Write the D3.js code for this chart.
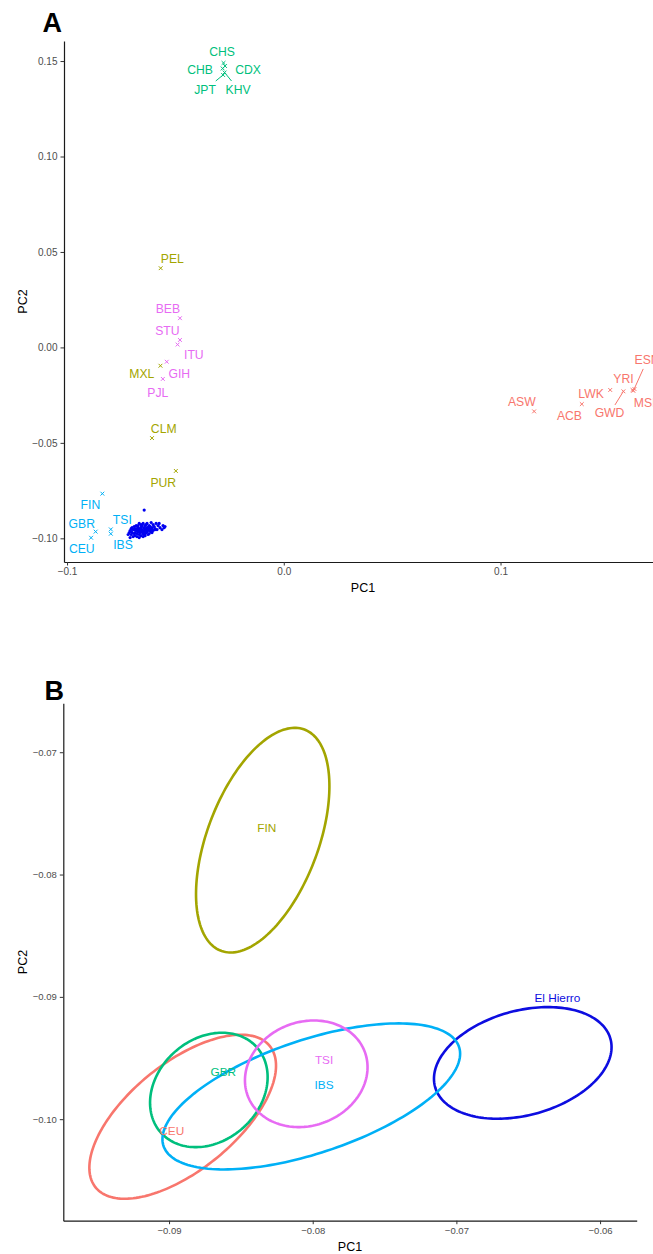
<!DOCTYPE html>
<html>
<head>
<meta charset="utf-8">
<script src="https://cdn.jsdelivr.net/npm/d3@7"></script>
<style>
  html, body { margin: 0; padding: 0; background: #fff; }
  svg { display: block; font-family: "Liberation Sans", Arial, Helvetica, sans-serif; }
</style>
</head>
<body>
<svg id="chart" width="653" height="1254"></svg>
<script>
// ---------------- Panel A data ----------------
const popNames  = ["CHS","CDX","CHB","KHV","JPT","PEL","MXL","CLM","PUR","BEB","STU","ITU","GIH","PJL","FIN","GBR","CEU","TSI","IBS","ASW","ACB","LWK","GWD","YRI","ESN","MSL"];
const popGroups = ["EAS","EAS","EAS","EAS","EAS","AMR","AMR","AMR","AMR","SAS","SAS","SAS","SAS","SAS","EUR","EUR","EUR","EUR","EUR","AFR","AFR","AFR","AFR","AFR","AFR","AFR"];
const popPC1    = [-0.0278,-0.0271,-0.0282,-0.0273,-0.0280,-0.0568,-0.0569,-0.0608,-0.0498,-0.0479,-0.0479,-0.0490,-0.0540,-0.0558,-0.0837,-0.0868,-0.0889,-0.0798,-0.0798,0.1155,0.1375,0.1506,0.1567,0.1609,0.1613,0.1618];
const popPC2    = [0.1490,0.1474,0.1461,0.1440,0.1427,0.0415,-0.0096,-0.0475,-0.0647,0.0153,0.0039,0.0015,-0.0075,-0.0165,-0.0766,-0.0965,-0.0997,-0.0953,-0.0976,-0.0335,-0.0297,-0.0223,-0.0230,-0.0223,-0.0227,-0.0218];
const labelPC1  = [-0.0285,-0.0165,-0.0386,-0.0211,-0.0363,-0.0514,-0.0655,-0.0554,-0.0556,-0.0535,-0.0537,-0.0415,-0.0482,-0.0581,-0.0892,-0.0932,-0.0932,-0.0745,-0.0742,0.1098,0.1318,0.1418,0.1503,0.1567,0.1676,0.1673];
const labelPC2  = [0.1548,0.1453,0.1453,0.1353,0.1353,0.0465,-0.0136,-0.0423,-0.0708,0.0205,0.0088,-0.0038,-0.0136,-0.0239,-0.0822,-0.0921,-0.1055,-0.0904,-0.1035,-0.0283,-0.0358,-0.0241,-0.0344,-0.0162,-0.0066,-0.0288];
const withSegment = ["KHV","JPT","GWD","ESN"];

const groupNames  = ["AFR","AMR","EAS","EUR","SAS"];
const groupColors = ["#F8766D","#A3A500","#00BF7D","#00B0F6","#E76BF3"];

// El Hierro individuals (PC1, PC2)
const hierroPC1 = [
 -0.0667,-0.0649,-0.0631,-0.0612,
 -0.0681,-0.0658,-0.0635,
 -0.0690,-0.0672,-0.0654,-0.0640,-0.0621,-0.0603,-0.0589,
 -0.0704,-0.0686,-0.0672,-0.0658,-0.0644,-0.0631,-0.0617,-0.0598,-0.0580,
 -0.0695,-0.0663,-0.0635,-0.0608,
 -0.0709,-0.0681,-0.0667,-0.0654,-0.0640,-0.0626,-0.0612,-0.0594,-0.0571,-0.0552,
 -0.0704,-0.0677,-0.0649,-0.0621,-0.0594,
 -0.0713,-0.0700,-0.0686,-0.0672,-0.0658,-0.0644,-0.0631,-0.0617,-0.0603,-0.0585,
 -0.0690,-0.0663,-0.0635,-0.0612,
 -0.0704,-0.0677,-0.0649,-0.0640,-0.0621,-0.0608,
 -0.0686,-0.0667,-0.0644,-0.0626,
 -0.0695,-0.0677,-0.0658,-0.0640,
 -0.0667,-0.0649,
 -0.0644,-0.0557,-0.0548,-0.0718,-0.0709,-0.0562,-0.0575,-0.0700,
 -0.0656,-0.0624,-0.0633,-0.0665,-0.0608,-0.0690,-0.0651,-0.0621,-0.0677
];
const hierroPC2 = [
 -0.0922,-0.0922,-0.0922,-0.0917,
 -0.0933,-0.0928,-0.0928,
 -0.0938,-0.0933,-0.0933,-0.0933,-0.0933,-0.0928,-0.0922,
 -0.0949,-0.0949,-0.0944,-0.0944,-0.0944,-0.0944,-0.0938,-0.0938,-0.0933,
 -0.0954,-0.0949,-0.0949,-0.0944,
 -0.0959,-0.0959,-0.0954,-0.0954,-0.0954,-0.0954,-0.0949,-0.0949,-0.0944,-0.0944,
 -0.0965,-0.0959,-0.0959,-0.0959,-0.0954,
 -0.0970,-0.0970,-0.0970,-0.0965,-0.0965,-0.0965,-0.0965,-0.0959,-0.0959,-0.0954,
 -0.0975,-0.0970,-0.0970,-0.0965,
 -0.0980,-0.0975,-0.0975,-0.0975,-0.0975,-0.0970,
 -0.0986,-0.0980,-0.0980,-0.0980,
 -0.0991,-0.0991,-0.0986,-0.0986,
 -0.0996,-0.0991,
 -0.0852,-0.0933,-0.0938,-0.0980,-0.0996,-0.0954,-0.0922,-0.0944,
 -0.0938,-0.0941,-0.0959,-0.0962,-0.0952,-0.0954,-0.0970,-0.0946,-0.0949
];

const ticksA_x = [-0.1, 0.0, 0.1];
const ticksA_y = [-0.10, -0.05, 0.00, 0.05, 0.10, 0.15];

// ---------------- Panel B data ----------------
const ellNames  = ["CEU","El Hierro","FIN","GBR","IBS","TSI"];
const ellColors = ["#F8766D","#0D0DE0","#A3A500","#00BF7D","#00B0F6","#E76BF3"];
const ellCX  = [-0.08905,-0.06538,-0.08348,-0.08723,-0.08010,-0.08045];
const ellCY  = [-0.09980,-0.09540,-0.07719,-0.09761,-0.09814,-0.09629];
const ellWX  = [0.006496,0.006180,0.004642,0.004092,0.010360,0.004266];
const ellWY  = [0.006705,0.004563,0.009182,0.004677,0.005969,0.004358];
const ellDYR = [0.004170,0.001292,0.004415,0.001047,0.003491,0.000540];
const ellLabelX = [-0.08981,-0.06297,-0.08320,-0.08622,-0.07921,-0.07921];
const ellLabelY = [-0.10092,-0.09007,-0.07617,-0.09616,-0.09719,-0.09514];

const ticksB_x = [-0.09, -0.08, -0.07, -0.06];
const ticksB_y = [-0.10, -0.09, -0.08, -0.07];

// ---------------- Drawing ----------------
const svg = d3.select("#chart");
svg.append("rect").attr("width", 653).attr("height", 1254).attr("fill", "#fff");
const font = "'Liberation Sans', Arial, Helvetica, sans-serif";
const colorOf = d3.scaleOrdinal().domain(groupNames).range(groupColors);

function styleAxis(g, fs) {
  g.select(".domain").attr("stroke", "#1a1a1a").attr("stroke-width", 1.2);
  g.selectAll(".tick line").attr("stroke", "#333").attr("stroke-width", 1);
  g.selectAll(".tick text").attr("fill", "#4d4d4d").attr("font-size", fs).attr("font-family", font);
}

// ----- Panel A -----
const xA = d3.scaleLinear().domain([-0.1014, 0.1745]).range([64, 662]);
const yA = d3.scaleLinear().domain([-0.1124, 0.1605]).range([562, 41]);

const gA = svg.append("g");
gA.append("g").attr("transform", "translate(0,562)")
  .call(d3.axisBottom(xA).tickValues(ticksA_x).tickFormat(d3.format(".1f")).tickSize(3.5).tickSizeOuter(0).tickPadding(2.5))
  .call(g => styleAxis(g, 10));
gA.append("g").attr("transform", "translate(64,0)")
  .call(d3.axisLeft(yA).tickValues(ticksA_y).tickFormat(d3.format(".2f")).tickSize(3.5).tickSizeOuter(0).tickPadding(3))
  .call(g => styleAxis(g, 10));

gA.append("text").text("A").attr("x", 42.5).attr("y", 31.5)
  .attr("font-size", 27).attr("font-weight", "bold").attr("font-family", font).attr("fill", "#000");
gA.append("text").text("PC1").attr("x", (xA.range()[0] + xA.range()[1]) / 2).attr("y", 592)
  .attr("text-anchor", "middle").attr("font-size", 12.5).attr("font-family", font).attr("fill", "#000");
gA.append("text").text("PC2").attr("transform", `translate(22.5,${(yA.range()[0] + yA.range()[1]) / 2}) rotate(-90)`)
  .attr("text-anchor", "middle").attr("dy", "0.35em").attr("font-size", 12.5).attr("font-family", font).attr("fill", "#000");

// El Hierro points
gA.append("g").selectAll("circle").data(d3.range(hierroPC1.length)).join("circle")
  .attr("cx", i => xA(hierroPC1[i])).attr("cy", i => yA(hierroPC2[i]))
  .attr("r", 1.6).attr("fill", "#0000F0");

// population markers (x shapes)
const popIdx = d3.range(popNames.length);
const m = 1.9;
gA.append("g").selectAll("path").data(popIdx).join("path")
  .attr("d", i => {
    const cx = xA(popPC1[i]), cy = yA(popPC2[i]);
    return `M${cx - m},${cy - m}L${cx + m},${cy + m}M${cx - m},${cy + m}L${cx + m},${cy - m}`;
  })
  .attr("stroke", i => colorOf(popGroups[i])).attr("stroke-width", 1).attr("fill", "none");

// labels
const labG = gA.append("g");
const labels = labG.selectAll("text").data(popIdx).join("text")
  .text(i => popNames[i])
  .attr("x", i => xA(labelPC1[i])).attr("y", i => yA(labelPC2[i]))
  .attr("dy", "0.36em").attr("text-anchor", "middle")
  .attr("font-size", 12.2).attr("font-family", font)
  .attr("fill", i => colorOf(popGroups[i]));

// segments for repelled labels (from point to label box edge)
labels.each(function(i) {
  if (!withSegment.includes(popNames[i])) return;
  const bb = this.getBBox();
  const pad = 1.5;
  const x0 = bb.x - pad, x1 = bb.x + bb.width + pad, y0 = bb.y - pad, y1 = bb.y + bb.height + pad;
  const px = xA(popPC1[i]), py = yA(popPC2[i]);
  const lx = (x0 + x1) / 2, ly = (y0 + y1) / 2;
  const dx = lx - px, dy = ly - py;
  let tBest = 1;
  [[x0, "x"], [x1, "x"], [y0, "y"], [y1, "y"]].forEach(([v, k]) => {
    const t = k === "x" ? (dx !== 0 ? (v - px) / dx : Infinity) : (dy !== 0 ? (v - py) / dy : Infinity);
    if (t > 0 && t < tBest) {
      const ex = px + t * dx, ey = py + t * dy;
      if (ex >= x0 - 0.01 && ex <= x1 + 0.01 && ey >= y0 - 0.01 && ey <= y1 + 0.01) tBest = t;
    }
  });
  labG.append("line")
    .attr("x1", px).attr("y1", py).attr("x2", px + tBest * dx).attr("y2", py + tBest * dy)
    .attr("stroke", colorOf(popGroups[i])).attr("stroke-width", 1);
});

// ----- Panel B -----
const xB = d3.scaleLinear().domain([-0.09736, -0.05745]).range([63.3, 636.7]);
const yB = d3.scaleLinear().domain([-0.1083, -0.0660]).range([1220.7, 703.3]);

const gB = svg.append("g");
gB.append("g").attr("transform", "translate(0,1220.7)")
  .call(d3.axisBottom(xB).tickValues(ticksB_x).tickFormat(d3.format(".2f")).tickSize(3.5).tickSizeOuter(0).tickPadding(3))
  .call(g => styleAxis(g, 9.5));
gB.append("g").attr("transform", "translate(63.3,0)")
  .call(d3.axisLeft(yB).tickValues(ticksB_y).tickFormat(d3.format(".2f")).tickSize(3.5).tickSizeOuter(0).tickPadding(3))
  .call(g => styleAxis(g, 9.5));

gB.append("text").text("B").attr("x", 44.5).attr("y", 700)
  .attr("font-size", 27).attr("font-weight", "bold").attr("font-family", font).attr("fill", "#000");
gB.append("text").text("PC1").attr("x", (xB.range()[0] + xB.range()[1]) / 2).attr("y", 1251)
  .attr("text-anchor", "middle").attr("font-size", 12.5).attr("font-family", font).attr("fill", "#000");
gB.append("text").text("PC2").attr("transform", `translate(22.5,${(yB.range()[0] + yB.range()[1]) / 2}) rotate(-90)`)
  .attr("text-anchor", "middle").attr("dy", "0.35em").attr("font-size", 12.5).attr("font-family", font).attr("fill", "#000");

const tSamples = d3.range(0, 2 * Math.PI + 0.001, Math.PI / 90);
const ellLine = d3.line().curve(d3.curveLinearClosed);
const ellIdx = d3.range(ellNames.length);
gB.append("g").selectAll("path").data(ellIdx).join("path")
  .attr("d", i => {
    const off = Math.sqrt(ellWY[i] * ellWY[i] - ellDYR[i] * ellDYR[i]);
    return ellLine(tSamples.map(t => [
      xB(ellCX[i] + ellWX[i] * Math.cos(t)),
      yB(ellCY[i] + ellDYR[i] * Math.cos(t) + off * Math.sin(t))
    ]));
  })
  .attr("fill", "none").attr("stroke", i => ellColors[i]).attr("stroke-width", 2.6);

gB.append("g").selectAll("text").data(ellIdx).join("text")
  .text(i => ellNames[i])
  .attr("x", i => xB(ellLabelX[i])).attr("y", i => yB(ellLabelY[i]))
  .attr("dy", "0.36em").attr("text-anchor", "middle")
  .attr("font-size", 11.8).attr("font-family", font)
  .attr("fill", i => ellColors[i]);
</script>
</body>
</html>
